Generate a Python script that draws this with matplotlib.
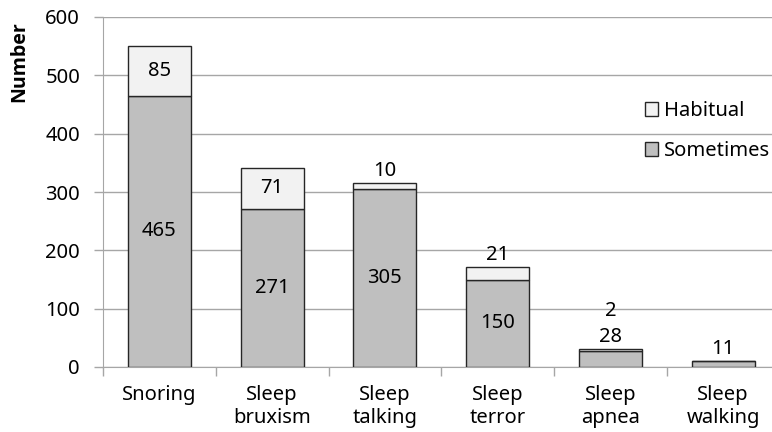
import matplotlib
matplotlib.use("Agg")
import matplotlib.pyplot as plt
import numpy as np
from matplotlib.ticker import FixedLocator, NullFormatter

categories = ["Snoring", "Sleep\nbruxism", "Sleep\ntalking", "Sleep\nterror", "Sleep\napnea", "Sleep\nwalking"]
sometimes = [465, 271, 305, 150, 28, 11]
habitual = [85, 71, 10, 21, 2, 0]
y_ticks = [0, 100, 200, 300, 400, 500, 600]

plt.rcParams["font.family"] = ["Noto Sans", "DejaVu Sans"]
plt.rcParams["font.size"] = 14.5

fig = plt.figure(figsize=(7.72, 4.32), dpi=100)
ax = fig.add_axes([103 / 772, 65 / 432, 676.5 / 772, 350 / 432])

x = np.arange(len(categories))
w = 0.56
c_some = "#bfbfbf"
c_hab = "#f2f2f2"
edge = "#262626"
fs = 14.5

b1 = ax.bar(x, sometimes, w, color=c_some, edgecolor=edge, linewidth=1.0, zorder=3, label="Sometimes")
b2 = ax.bar(x, habitual, w, bottom=sometimes, color=c_hab, edgecolor=edge, linewidth=1.0, zorder=3, label="Habitual")

ax.set_xlim(-0.5, len(categories) - 0.5)
ax.set_ylim(0, 600)
ax.set_yticks(y_ticks)
ax.yaxis.grid(True, color="#a6a6a6", linewidth=1.0, zorder=0)
ax.set_axisbelow(True)

ax.set_xticks(x)
ax.set_xticklabels(categories, linespacing=1.2)
ax.xaxis.set_minor_locator(FixedLocator(np.arange(-0.5, len(categories), 1.0)))
ax.xaxis.set_minor_formatter(NullFormatter())
ax.tick_params(axis="x", which="major", length=0, pad=13)
ax.tick_params(axis="x", which="minor", length=6.5, color="#a6a6a6", width=1)
ax.tick_params(axis="y", length=6.5, color="#a6a6a6", width=1, pad=10)

for s in ["top", "right"]:
    ax.spines[s].set_visible(False)
ax.spines["left"].set_color("#a6a6a6")
ax.spines["bottom"].set_color("#a6a6a6")

# value labels: centred inside tall segments, stacked above short bars
inside_min = 40
for i, (s, h) in enumerate(zip(sometimes, habitual)):
    top = s + h
    above = []
    if s >= inside_min:
        ax.text(i, s / 2, str(s), ha="center", va="center", fontsize=fs, zorder=4)
    else:
        above.append(s)
    if h > 0:
        if h >= inside_min:
            ax.text(i, s + h / 2, str(h), ha="center", va="center", fontsize=fs, zorder=4)
        else:
            above.append(h)
    for k, v in enumerate(above):
        ax.annotate(str(v), (i, top), xytext=(0, 12 + 26 * k), textcoords="offset pixels",
                    ha="center", va="center", fontsize=fs, zorder=4)

fig.text(19 / 772, 1 - 62 / 432, "Number", rotation=90, ha="center", va="center",
         fontsize=14, fontweight="bold", family=["Open Sans", "DejaVu Sans"])

leg = ax.legend(handles=[b2, b1], labels=["Habitual", "Sometimes"], frameon=False,
                loc="center right", bbox_to_anchor=(770 / 772, 1 - 131 / 432),
                bbox_transform=fig.transFigure, borderpad=0, borderaxespad=0,
                handlelength=0.65, handleheight=0.65,
                handletextpad=0.3, labelspacing=1.0, fontsize=fs)

fig.savefig("out.png", dpi=100)
